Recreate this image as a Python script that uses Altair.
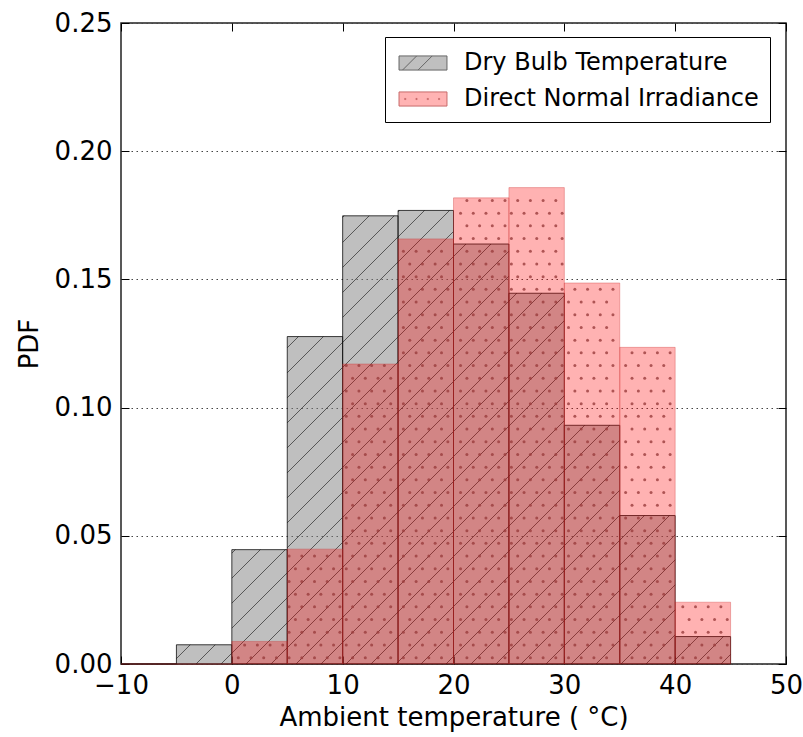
import math
import altair as alt
import pandas as pd

# Histogram bins (left edges, width 5 °C) and per-bin probabilities
bin_left = [-10, -5, 0, 5, 10, 15, 20, 25, 30, 35, 40]
bin_width = 5
dry_bulb = [0.0, 0.0075, 0.0446, 0.1277, 0.1748, 0.1769, 0.1638, 0.1446, 0.0931, 0.0579, 0.0107]
dni = [0.0, 0.0, 0.0088, 0.0448, 0.1170, 0.1658, 0.1818, 0.1858, 0.1486, 0.1235, 0.0241]

series_names = ["Dry Bulb Temperature", "Direct Normal Irradiance"]
x_ticks = [-10, 0, 10, 20, 30, 40, 50]
y_ticks = [0.0, 0.05, 0.10, 0.15, 0.20, 0.25]

X_DOMAIN = [-10, 50]
Y_DOMAIN = [0, 0.25]
W, H = 665, 641
FONT = "DejaVu Sans"

kx = W / (X_DOMAIN[1] - X_DOMAIN[0])
ky = H / (Y_DOMAIN[1] - Y_DOMAIN[0])

bars = pd.DataFrame({
    "left": bin_left,
    "right": [b + bin_width for b in bin_left],
    "dry": dry_bulb,
    "dni": dni,
    "zero": [0.0] * len(bin_left),
})

# "/" hatch lines inside the dry-bulb bars, 45 degrees in screen space
HATCH = 25.0
hatch_rows = []
for left, h in zip(bin_left, dry_bulb):
    if h <= 0:
        continue
    u0 = (left - X_DOMAIN[0]) * kx
    u1 = u0 + bin_width * kx
    vh = h * ky
    c = math.floor((u0 - vh) / HATCH) * HATCH
    while c < u1:
        lo, hi = max(u0, c), min(u1, c + vh)
        if hi - lo > 0.5:
            hatch_rows.append({
                "x": lo / kx + X_DOMAIN[0], "x2": hi / kx + X_DOMAIN[0],
                "y": (lo - c) / ky, "y2": (hi - c) / ky,
            })
        c += HATCH
hatch = pd.DataFrame(hatch_rows)

# staggered dot pattern inside the irradiance bars
DOT = 12.7
dot_rows = []
for left, h in zip(bin_left, dni):
    if h <= 0:
        continue
    u0 = (left - X_DOMAIN[0]) * kx
    u1 = u0 + bin_width * kx
    vh = h * ky
    j = 0
    while (j + 0.5) * DOT < vh - 1:
        v = (j + 0.5) * DOT
        shift = 0.5 * DOT if j % 2 else 0.0
        i = math.floor((u0 - shift) / DOT)
        while i * DOT + shift < u1:
            u = i * DOT + shift + 3.0
            if u0 + 1.5 < u < u1 - 1.5:
                dot_rows.append({"x": u / kx + X_DOMAIN[0], "y": v / ky})
            i += 1
        j += 1
dots = pd.DataFrame(dot_rows)

xs = alt.Scale(domain=X_DOMAIN, nice=False, zero=False)
ys = alt.Scale(domain=Y_DOMAIN, nice=False, zero=False)

axis_common = dict(
    domain=False, tickColor="black", tickWidth=1, tickSize=8, offset=-8,
    labelFont=FONT, labelFontSize=26, labelColor="black", labelFlush=False,
    titleFont=FONT, titleFontSize=26, titleFontWeight="normal", titleColor="black",
)

x_bottom = alt.Axis(orient="bottom", values=x_ticks, format="d", grid=False,
                    labelPadding=8, title="Ambient temperature ( °C)", titlePadding=6,
                    **axis_common)
y_left = alt.Axis(orient="left", values=y_ticks, format=".2f", grid=True,
                  gridDash=[1.5, 3.5], gridColor="#444444", gridWidth=1,
                  labelPadding=9, title="PDF", titlePadding=12, **axis_common)
x_top = alt.Axis(orient="top", values=x_ticks, labels=False, grid=False, title=None,
                 domain=False, tickColor="black", tickSize=8, offset=-8)
y_right = alt.Axis(orient="right", values=y_ticks, labels=False, grid=False, title=None,
                   domain=False, tickColor="black", tickSize=8, offset=-8)

gray_bars = alt.Chart(bars).mark_rect(
    fill="#808080", fillOpacity=0.5, stroke="black", strokeOpacity=0.75, strokeWidth=1
).encode(
    x=alt.X("left:Q", scale=xs, axis=x_bottom),
    x2="right:Q",
    y=alt.Y("dry:Q", scale=ys, axis=y_left),
    y2="zero:Q",
)

hatch_lines = alt.Chart(hatch).mark_rule(color="black", opacity=0.55, strokeWidth=1).encode(
    x=alt.X("x:Q", scale=xs, axis=None),
    x2="x2:Q",
    y=alt.Y("y:Q", scale=ys, axis=None),
    y2="y2:Q",
)

pink_bars = alt.Chart(bars).mark_rect(
    fill="red", fillOpacity=0.3, stroke="#cc3333", strokeOpacity=0.35, strokeWidth=1
).encode(
    x=alt.X("left:Q", scale=xs, axis=x_top),
    x2="right:Q",
    y=alt.Y("dni:Q", scale=ys, axis=y_right),
    y2="zero:Q",
)

dot_marks = alt.Chart(dots).mark_circle(size=9, color="#9a3c3c", opacity=0.8).encode(
    x=alt.X("x:Q", scale=xs, axis=None),
    y=alt.Y("y:Q", scale=ys, axis=None),
)

# legend swatches: wide rectangles with hatch / dots drawn into the symbol path
hatch_swatch = "M-1.7,-0.5H1.7V0.5H-1.7Z M-1.45,0.5L-0.45,-0.5 M-0.35,0.5L0.65,-0.5"
dot_swatch = ("M-1.7,-0.5H1.7V0.5H-1.7Z "
              "M-1.3,-0.04h0.08v0.08h-0.08z M-0.5,-0.04h0.08v0.08h-0.08z "
              "M0.3,-0.04h0.08v0.08h-0.08z M1.1,-0.04h0.08v0.08h-0.08z")

legend_df = pd.DataFrame({"series": series_names, "x": [-20, -20], "y": [-1, -1]})
leg = alt.Legend(
    title=None, orient="none", legendX=264, legendY=14, padding=11,
    strokeColor="black", fillColor="white", cornerRadius=0,
    labelFont=FONT, labelFontSize=24, labelColor="black", labelLimit=400,
    symbolSize=796, symbolStrokeWidth=1, symbolOffset=12, labelOffset=26, rowPadding=9,
)
legend_layer = alt.Chart(legend_df).mark_point(size=796, opacity=1, strokeWidth=1, clip=True).encode(
    x=alt.X("x:Q", scale=xs, axis=None),
    y=alt.Y("y:Q", scale=ys, axis=None),
    fill=alt.Fill("series:N", scale=alt.Scale(domain=series_names, range=["#bfbfbf", "#ffb3b3"]), legend=leg),
    stroke=alt.Stroke("series:N", scale=alt.Scale(domain=series_names, range=["#666666", "#c86a6a"]), legend=leg),
    shape=alt.Shape("series:N", scale=alt.Scale(domain=series_names, range=[hatch_swatch, dot_swatch]), legend=leg),
)

chart = alt.layer(
    gray_bars, hatch_lines, pink_bars, dot_marks, legend_layer
).resolve_axis(
    x="independent", y="independent"
).properties(
    width=W, height=H,
    autosize=alt.AutoSizeParams(type="none"),
    padding={"left": 121, "top": 23, "right": 17, "bottom": 73},
    background="white",
).configure_view(
    stroke="#222222", strokeWidth=1.5
)

chart.save("out.html", embed_options={"renderer": "svg", "actions": False})
